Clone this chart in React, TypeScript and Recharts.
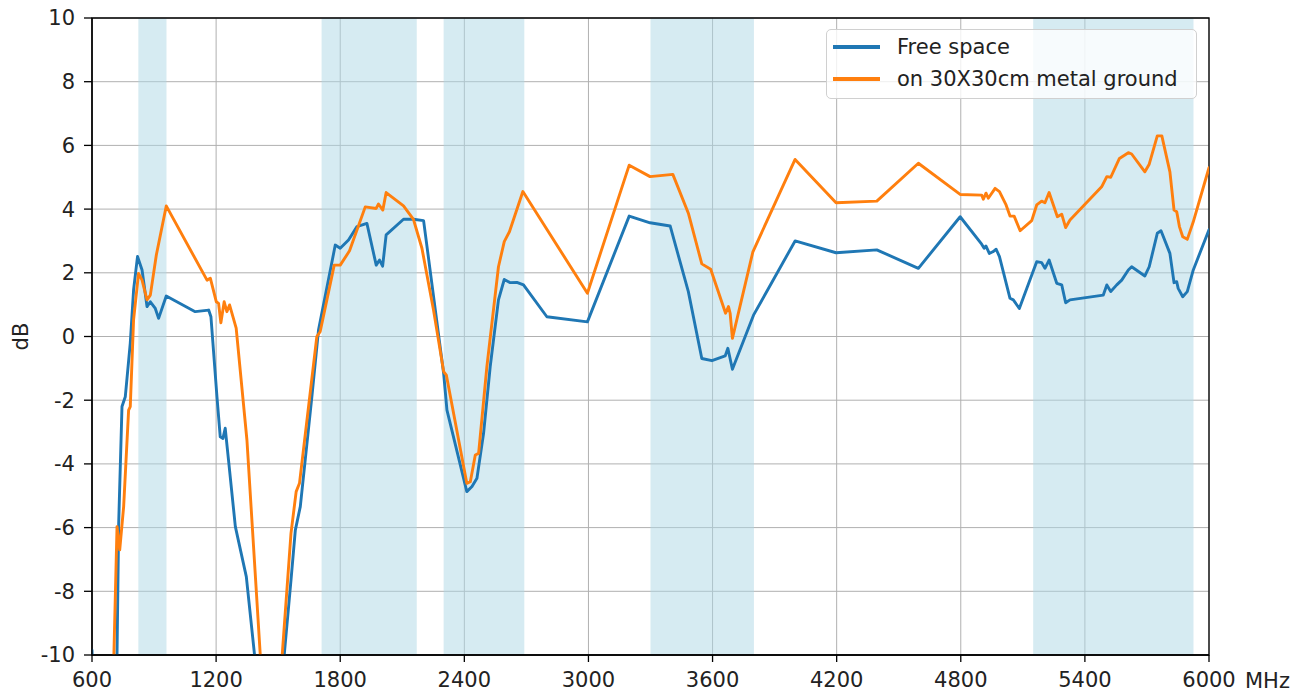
import React from "react";
import { LineChart, Line, XAxis, YAxis, CartesianGrid, ReferenceArea, Legend, Label } from "recharts";

const FONT = '"DejaVu Sans", "Liberation Sans", sans-serif';
const BLUE = "#1f77b4";
const ORANGE = "#ff7f0e";

// Free space (blue)
const freeFreq = [600, 603, 712, 721, 729, 745, 761, 785, 801, 820, 842, 866, 882, 906, 922, 959, 1099, 1164, 1175, 1204, 1220, 1233, 1244, 1260, 1293, 1346, 1385, 1400, 1515, 1530, 1562, 1583, 1607, 1663, 1695, 1776, 1800, 1840, 1881, 1929, 1974, 1990, 2005, 2022, 2106, 2154, 2203, 2300, 2316, 2412, 2437, 2461, 2493, 2525, 2565, 2593, 2622, 2654, 2686, 2799, 2995, 3197, 3298, 3395, 3483, 3548, 3597, 3661, 3674, 3696, 3798, 3999, 4197, 4394, 4595, 4797, 4901, 4913, 4922, 4938, 4955, 4971, 4987, 5038, 5054, 5083, 5167, 5191, 5207, 5227, 5264, 5288, 5307, 5328, 5489, 5506, 5525, 5554, 5578, 5610, 5626, 5690, 5711, 5750, 5768, 5811, 5831, 5844, 5851, 5873, 5895, 5924, 6000];
const freeDb = [-9.85, -10.4, -14, -9.95, -5.87, -2.2, -1.89, -0.21, 1.46, 2.51, 2.09, 0.94, 1.09, 0.88, 0.57, 1.27, 0.78, 0.83, 0.62, -1.89, -3.15, -3.2, -2.88, -3.88, -5.97, -7.54, -9.95, -13, -13, -9.95, -7.65, -6.08, -5.34, -1.89, 0.2, 2.87, 2.77, 3.03, 3.45, 3.55, 2.24, 2.4, 2.21, 3.19, 3.68, 3.68, 3.64, -1.16, -2.31, -4.87, -4.71, -4.45, -3.04, -0.95, 1.15, 1.79, 1.69, 1.7, 1.62, 0.62, 0.46, 3.78, 3.57, 3.47, 1.41, -0.69, -0.76, -0.61, -0.37, -1.03, 0.67, 3.0, 2.63, 2.72, 2.14, 3.76, 2.9, 2.77, 2.84, 2.61, 2.66, 2.74, 2.51, 1.2, 1.15, 0.88, 2.35, 2.32, 2.14, 2.4, 1.67, 1.62, 1.06, 1.15, 1.3, 1.62, 1.41, 1.62, 1.77, 2.09, 2.19, 1.9, 2.19, 3.24, 3.32, 2.61, 1.69, 1.72, 1.51, 1.25, 1.41, 2.09, 3.35];

// On 30X30cm metal ground (orange)
const groundFreq = [690, 706, 721, 734, 753, 777, 785, 801, 825, 842, 866, 882, 911, 959, 1156, 1172, 1201, 1212, 1223, 1239, 1252, 1265, 1297, 1349, 1413, 1430, 1505, 1520, 1562, 1587, 1603, 1687, 1703, 1771, 1800, 1845, 1921, 1974, 1985, 2006, 2022, 2106, 2154, 2195, 2251, 2300, 2313, 2412, 2429, 2453, 2469, 2509, 2565, 2593, 2618, 2683, 2995, 3197, 3298, 3408, 3483, 3548, 3591, 3663, 3677, 3685, 3696, 3795, 3999, 4197, 4394, 4595, 4797, 4901, 4909, 4922, 4933, 4966, 4987, 5019, 5038, 5058, 5087, 5143, 5167, 5191, 5207, 5227, 5267, 5288, 5307, 5328, 5481, 5506, 5525, 5567, 5610, 5626, 5690, 5711, 5750, 5772, 5811, 5831, 5844, 5857, 5873, 5895, 5924, 6000];
const groundDb = [-14, -9.95, -5.97, -6.7, -5.34, -2.31, -2.2, 0.52, 1.98, 1.77, 1.15, 1.3, 2.56, 4.1, 1.77, 1.83, 1.09, 1.04, 0.43, 1.09, 0.78, 0.99, 0.26, -3.25, -9.95, -13, -13, -9.95, -6.18, -4.87, -4.61, 0.0, 0.15, 2.24, 2.24, 2.69, 4.07, 4.02, 4.16, 3.97, 4.52, 4.1, 3.68, 2.77, 0.83, -1.1, -1.21, -4.61, -4.56, -3.72, -3.67, -0.95, 2.19, 2.98, 3.29, 4.55, 1.36, 5.38, 5.02, 5.09, 3.87, 2.28, 2.11, 0.73, 0.94, 0.73, -0.06, 2.66, 5.56, 4.2, 4.25, 5.44, 4.46, 4.44, 4.31, 4.5, 4.34, 4.65, 4.55, 4.13, 3.78, 3.78, 3.32, 3.64, 4.13, 4.25, 4.2, 4.52, 3.76, 3.84, 3.42, 3.66, 4.7, 5.02, 5.0, 5.59, 5.77, 5.73, 5.17, 5.41, 6.3, 6.3, 5.17, 3.97, 3.92, 3.45, 3.13, 3.05, 3.6, 5.3];

// Shaded frequency bands (MHz)
const bandStart = [824, 1710, 2300, 3300, 5150];
const bandEnd = [960, 2170, 2690, 3800, 5925];

const xTicks = [600, 1200, 1800, 2400, 3000, 3600, 4200, 4800, 5400, 6000];
const yTicks = [-10, -8, -6, -4, -2, 0, 2, 4, 6, 8, 10];

const seriesNames = ["Free space", "on 30X30cm metal ground"];
const seriesColors = [BLUE, ORANGE];

const freeData = freeFreq.map((f, i) => ({ f, v: freeDb[i] }));
const groundData = groundFreq.map((f, i) => ({ f, v: groundDb[i] }));

const tickStyle = { fontSize: 21, fill: "#222", fontFamily: FONT };

const LegendBox = () => (
  <div
    style={{
      width: 369,
      height: 68,
      border: "1px solid #d0d0d0",
      borderRadius: 5,
      background: "rgba(255,255,255,0.8)",
      fontFamily: FONT,
      fontSize: 21,
      color: "#222",
      position: "relative",
    }}
  >
    {seriesNames.map((name, i) => (
      <div
        key={name}
        style={{ position: "absolute", left: 6, top: 3 + i * 32, height: 28, display: "flex", alignItems: "center", whiteSpace: "nowrap" }}
      >
        <span style={{ display: "inline-block", width: 47, height: 3.2, background: seriesColors[i], marginRight: 17 }} />
        <span>{name}</span>
      </div>
    ))}
  </div>
);

export default function App() {
  return (
    <div style={{ position: "absolute", left: 0, top: 0, width: 1303, height: 695, background: "#fff" }}>
      <LineChart width={1303} height={695} margin={{ top: 18, right: 94, bottom: 0, left: 0 }}>
        <CartesianGrid stroke="#b0b0b0" strokeWidth={1} />
        {bandStart.map((s, i) => (
          <ReferenceArea key={s} x1={s} x2={bandEnd[i]} y1={-10} y2={10} fill="#add8e6" fillOpacity={0.5} stroke="none" />
        ))}
        <XAxis
          dataKey="f"
          type="number"
          domain={[600, 6000]}
          ticks={xTicks}
          allowDataOverflow
          height={40}
          tickSize={7}
          tickMargin={10}
          tick={tickStyle}
          axisLine={{ stroke: "#000", strokeWidth: 1.3 }}
          tickLine={{ stroke: "#000", strokeWidth: 1.3 }}
          interval={0}
        >
          <Label
            content={(props: any) => {
              const vb = props.viewBox || {};
              return (
                <text x={vb.x + vb.width + 36} y={vb.y + 33} fontSize={21} fill="#222" fontFamily={FONT} textAnchor="start">
                  MHz
                </text>
              );
            }}
          />
        </XAxis>
        <YAxis
          dataKey="v"
          type="number"
          domain={[-10, 10]}
          ticks={yTicks}
          allowDataOverflow
          width={92}
          tickSize={8}
          tickMargin={9}
          tick={tickStyle}
          axisLine={{ stroke: "#000", strokeWidth: 1.3 }}
          tickLine={{ stroke: "#000", strokeWidth: 1.3 }}
          interval={0}
        >
          <Label
            content={(props: any) => {
              const vb = props.viewBox || {};
              const cx = 21;
              const cy = vb.y + vb.height / 2;
              return (
                <text x={cx} y={cy} transform={`rotate(-90 ${cx} ${cy})`} fontSize={21} fill="#222" fontFamily={FONT} textAnchor="middle" dominantBaseline="central">
                  dB
                </text>
              );
            }}
          />
        </YAxis>
        <ReferenceArea x1={600} x2={6000} y1={-10} y2={10} fill="none" stroke="#000" strokeWidth={1.3} />
        <Line data={freeData} dataKey="v" name={seriesNames[0]} type="linear" stroke={BLUE} strokeWidth={2.9} dot={false} isAnimationActive={false} strokeLinejoin="round" strokeLinecap="round" />
        <Line data={groundData} dataKey="v" name={seriesNames[1]} type="linear" stroke={ORANGE} strokeWidth={2.9} dot={false} isAnimationActive={false} strokeLinejoin="round" strokeLinecap="round" />
        <Legend
          layout="vertical"
          align="center"
          verticalAlign="middle"
          wrapperStyle={{ left: 826, top: 29, width: 371, height: 70 }}
          content={() => <LegendBox />}
        />
      </LineChart>
    </div>
  );
}
